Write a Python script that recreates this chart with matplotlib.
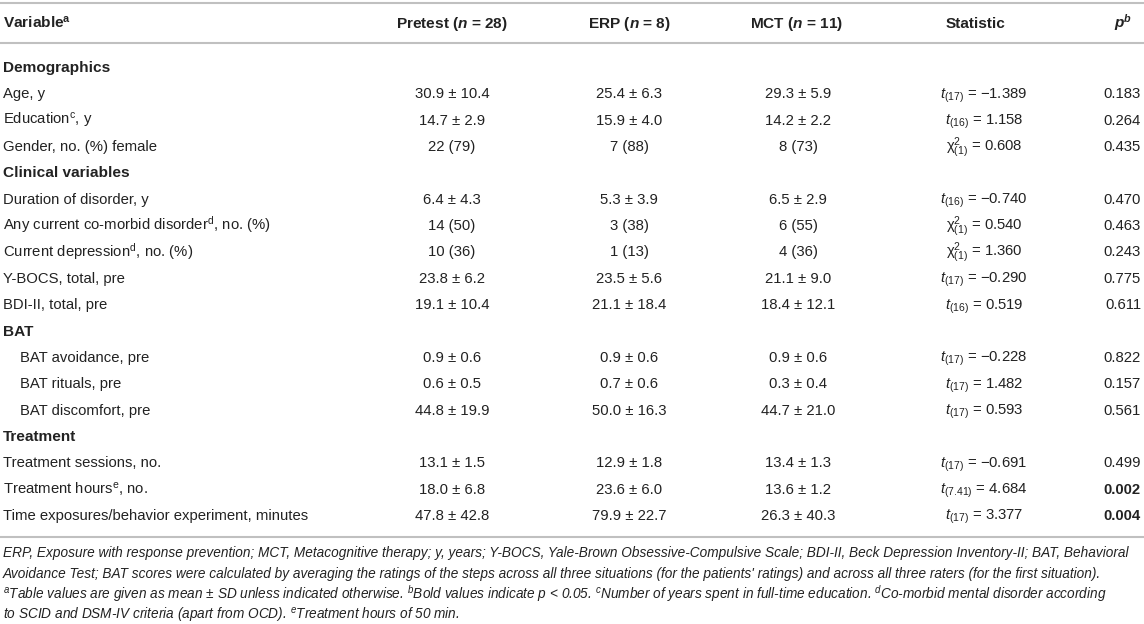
import matplotlib
matplotlib.use("Agg")
import matplotlib.pyplot as plt

plt.rcParams["font.family"] = ["Liberation Sans", "DejaVu Sans"]
plt.rcParams["mathtext.fontset"] = "custom"
plt.rcParams["mathtext.rm"] = "Liberation Sans"
plt.rcParams["mathtext.it"] = "Liberation Sans:italic"
plt.rcParams["mathtext.bf"] = "Liberation Sans:bold"
plt.rcParams["mathtext.bfit"] = "Liberation Sans:bold:italic"

TXT = "#222222"
LINE = "#c0c0c0"

# table data (section headers have empty cells)
sections = ["Demographics", "Clinical variables", "BAT", "Treatment"]
variables = [
    "Demographics",
    "Age, y",
    r"Education$^{\mathrm{c}}$, y",
    "Gender, no. (%) female",
    "Clinical variables",
    "Duration of disorder, y",
    r"Any current co-morbid disorder$^{\mathrm{d}}$, no. (%)",
    r"Current depression$^{\mathrm{d}}$, no. (%)",
    "Y-BOCS, total, pre",
    "BDI-II, total, pre",
    "BAT",
    "BAT avoidance, pre",
    "BAT rituals, pre",
    "BAT discomfort, pre",
    "Treatment",
    "Treatment sessions, no.",
    r"Treatment hours$^{\mathrm{e}}$, no.",
    "Time exposures/behavior experiment, minutes",
]
pretest = ["", "30.9 ± 10.4", "14.7 ± 2.9", "22 (79)", "", "6.4 ± 4.3", "14 (50)", "10 (36)",
           "23.8 ± 6.2", "19.1 ± 10.4", "", "0.9 ± 0.6", "0.6 ± 0.5", "44.8 ± 19.9", "",
           "13.1 ± 1.5", "18.0 ± 6.8", "47.8 ± 42.8"]
erp = ["", "25.4 ± 6.3", "15.9 ± 4.0", "7 (88)", "", "5.3 ± 3.9", "3 (38)", "1 (13)",
       "23.5 ± 5.6", "21.1 ± 18.4", "", "0.9 ± 0.6", "0.7 ± 0.6", "50.0 ± 16.3", "",
       "12.9 ± 1.8", "23.6 ± 6.0", "79.9 ± 22.7"]
mct = ["", "29.3 ± 5.9", "14.2 ± 2.2", "8 (73)", "", "6.5 ± 2.9", "6 (55)", "4 (36)",
       "21.1 ± 9.0", "18.4 ± 12.1", "", "0.9 ± 0.6", "0.3 ± 0.4", "44.7 ± 21.0", "",
       "13.4 ± 1.3", "13.6 ± 1.2", "26.3 ± 40.3"]
stat_kind = [None, "t", "t", "chi", None, "t", "chi", "chi", "t", "t", None, "t", "t", "t", None,
             "t", "t", "t"]
stat_df = [None, "17", "16", "1", None, "16", "1", "1", "17", "16", None, "17", "17", "17", None,
           "17", "7.41", "17"]
stat_val = [None, -1.389, 1.158, 0.608, None, -0.740, 0.540, 1.360, -0.290, 0.519, None,
            -0.228, 1.482, 0.593, None, -0.691, 4.684, 3.377]
p_vals = [None, 0.183, 0.264, 0.435, None, 0.470, 0.463, 0.243, 0.775, 0.611, None,
          0.822, 0.157, 0.561, None, 0.499, 0.002, 0.004]

headers = [r"Variable$^{\mathbf{a}}$", r"Pretest ($\mathbfit{n}$ = 28)", r"ERP ($\mathbfit{n}$ = 8)",
           r"MCT ($\mathbfit{n}$ = 11)", "Statistic", r"$\mathbfit{p^{b}}$"]

footnotes = [
    "ERP, Exposure with response prevention; MCT, Metacognitive therapy; y, years; Y-BOCS, Yale-Brown Obsessive-Compulsive Scale; BDI-II, Beck Depression Inventory-II; BAT, Behavioral",
    "Avoidance Test; BAT scores were calculated by averaging the ratings of the steps across all three situations (for the patients' ratings) and across all three raters (for the first situation).",
    r"${}^{\mathit{a}}$Table values are given as mean ± SD unless indicated otherwise. ${}^{\mathit{b}}$Bold values indicate p < 0.05. ${}^{\mathit{c}}$Number of years spent in full-time education. ${}^{\mathit{d}}$Co-morbid mental disorder according",
    r"to SCID and DSM-IV criteria (apart from OCD). ${}^{\mathit{e}}$Treatment hours of 50 min.",
]


def fmt_stat(kind, df, val):
    num = f"{val:.3f}".replace("-", "\u2212")
    if kind == "t":
        return r"$\mathit{t}_{\mathrm{(" + df + r")}}$ = " + num
    return r"$\mathrm{\chi}^{2}_{\mathrm{(" + df + r")}}$ = " + num


fig = plt.figure(figsize=(11.44, 6.24), dpi=100)
ax = fig.add_axes([0, 0, 1, 1])
ax.set_xlim(0, 1144)
ax.set_ylim(624, 0)
ax.axis("off")

fs = 10.7
fsb = 11.1
col_x = [3, 452, 629, 798, 984, 1141]
head_x = [3, 452, 629, 797, 976, 1132]
col_ha = ["left", "center", "center", "center", "center", "right"]

# rules
for yl in [3.3, 43.3, 537]:
    ax.plot([0, 1144], [yl, yl], color=LINE, lw=1.5, solid_capstyle="butt")

for x, ha, h in zip(head_x, col_ha, headers):
    ax.text(x, 27.7, h, ha=ha, va="baseline", fontsize=fsb, fontweight="bold", color=TXT)

y0, dy = 71.8, 26.37
sub = {"BAT avoidance, pre", "BAT rituals, pre", "BAT discomfort, pre"}
for i, name in enumerate(variables):
    y = y0 + i * dy
    if name in sections:
        ax.text(3, y, name, ha="left", va="baseline", fontsize=fsb, fontweight="bold", color=TXT)
        continue
    xl = 20.5 if name in sub else 3
    ax.text(xl, y, name, ha="left", va="baseline", fontsize=fs, color=TXT)
    for x, col in zip(col_x[1:4], [pretest, erp, mct]):
        ax.text(x, y, col[i], ha="center", va="baseline", fontsize=fs, color=TXT)
    ax.text(col_x[4], y, fmt_stat(stat_kind[i], stat_df[i], stat_val[i]),
            ha="center", va="baseline", fontsize=fs, color=TXT)
    ax.text(col_x[5], y, f"{p_vals[i]:.3f}", ha="right", va="baseline", fontsize=fs, color=TXT,
            fontweight="bold" if p_vals[i] < 0.05 else "normal")

for j, line in enumerate(footnotes):
    ax.text(3, 557.5 + j * 20.6, line, ha="left", va="baseline", fontsize=9.85,
            fontstyle="italic", color=TXT)

fig.savefig("out.png", dpi=100)
